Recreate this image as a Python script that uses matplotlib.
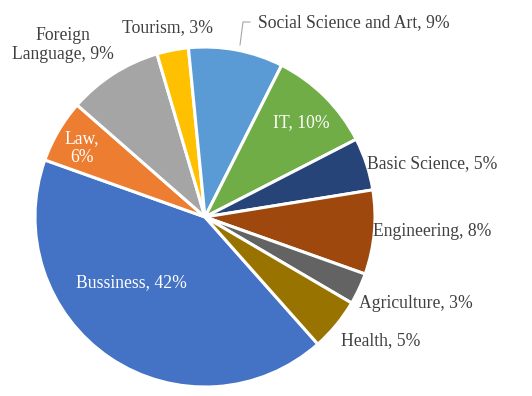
import matplotlib
matplotlib.use('Agg')
import matplotlib.pyplot as plt

# data (clockwise, starting with Bussiness)
categories = ['Bussiness', 'Law', 'Foreign Language', 'Tourism', 'Social Science and Art',
              'IT', 'Basic Science', 'Engineering', 'Agriculture', 'Health']
shares = [42, 6, 9, 3, 9, 10, 5, 8, 3, 5]
colors = ['#4472C4', '#ED7D31', '#A5A5A5', '#FFC000', '#5B9BD5',
          '#70AD47', '#264478', '#9E480E', '#636363', '#997300']

W, H = 532, 396
fig = plt.figure(figsize=(W / 100, H / 100), dpi=100)
ax = fig.add_axes([0, 0, 1, 1])

cx, cy, r = 205, H - 217, 170
ax.pie(shares, colors=colors, startangle=311.6, counterclock=False,
       center=(cx, cy), radius=r, frame=True,
       wedgeprops=dict(edgecolor='white', linewidth=2.2))
ax.set_xlim(0, W)
ax.set_ylim(0, H)
ax.set_aspect('equal')
ax.axis('off')

# label layout: (x, y in image pixels, ha, colour)
label_text = {
    'Bussiness': 'Bussiness, 42%',
    'Law': 'Law,\n6%',
    'Foreign Language': 'Foreign\nLanguage, 9%',
}
layout = {
    'Bussiness': (131, 283, 'center', 'white'),
    'Law': (82, 148, 'center', 'white'),
    'Foreign Language': (63, 45, 'center', '#404040'),
    'Tourism': (167, 28, 'center', '#404040'),
    'Social Science and Art': (258, 23, 'left', '#404040'),
    'IT': (301, 123, 'center', 'white'),
    'Basic Science': (367, 164, 'left', '#404040'),
    'Engineering': (373, 231, 'left', '#404040'),
    'Agriculture': (359, 303, 'left', '#404040'),
    'Health': (341, 341, 'left', '#404040'),
}
for cat, val in zip(categories, shares):
    x, y, ha, col = layout[cat]
    txt = label_text.get(cat, f'{cat}, {val}%')
    ax.text(x, H - y, txt, ha=ha, va='center', color=col, fontsize=12.7,
            family='Liberation Serif', linespacing=1.15)

# leader line for Social Science and Art
ax.plot([240, 243, 250], [H - 45, H - 22, H - 22], color='#A6A6A6', linewidth=0.8)

fig.savefig('out.png', dpi=100, facecolor='white')
